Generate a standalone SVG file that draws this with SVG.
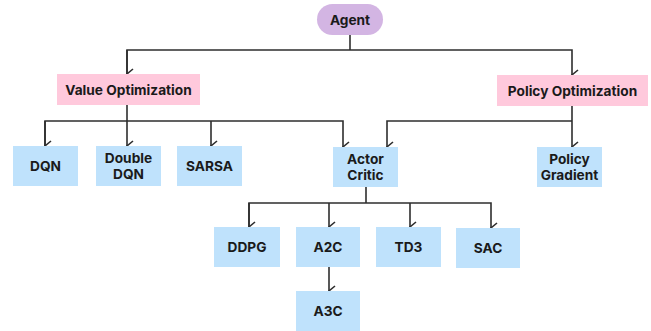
<svg xmlns="http://www.w3.org/2000/svg" width="651" height="331" viewBox="0 0 651 331">
<style>
.t{font-family:Inter,"Noto Sans","Liberation Sans",sans-serif;font-weight:700;font-size:13.7px;fill:#1a1a1a;text-anchor:middle;dominant-baseline:central}
.b{fill:#bfe2fc}
.p{fill:#ffc9dc}
.c{fill:none;stroke:#2e2e2e;stroke-width:1.6}
</style>
<defs>
<marker id="a" viewBox="0 0 12 10" refX="6" refY="9" markerWidth="12" markerHeight="10" markerUnits="userSpaceOnUse" orient="auto-start-reverse">
<path d="M1,3 L6,9 L11,3" fill="none" stroke="#2e2e2e" stroke-width="1.6"/>
</marker>
</defs>
<rect width="651" height="331" fill="#fff"/>
<g id="connectors" class="c">
<path d="M350,35 V50"/>
<path d="M127,74 V50 H572 V75" marker-end="url(#a)"/>
<path d="M127,50 V74" marker-end="url(#a)"/>
<path d="M127,105 V121"/>
<path d="M45,146 V121 H343 V147" marker-end="url(#a)"/>
<path d="M45,121 V146" marker-end="url(#a)"/>
<path d="M127,121 V146" marker-end="url(#a)"/>
<path d="M211,121 V146" marker-end="url(#a)"/>
<path d="M572,106 V147" marker-end="url(#a)"/>
<path d="M572,121 H387 V147" marker-end="url(#a)"/>
<path d="M366,187 V203"/>
<path d="M249,227 V203 H491 V228" marker-end="url(#a)"/>
<path d="M249,203 V227" marker-end="url(#a)"/>
<path d="M329,203 V227" marker-end="url(#a)"/>
<path d="M410,203 V227" marker-end="url(#a)"/>
<path d="M329,267 V291" marker-end="url(#a)"/>
</g>
<g id="agent"><rect x="317" y="4" width="66" height="31" rx="15.5" fill="#d3b5e3"/><text class="t" x="350" y="19.5">Agent</text></g>
<g id="value-optimization"><rect class="p" x="57" y="74" width="143" height="31"/><text class="t" x="128.5" y="89.5">Value Optimization</text></g>
<g id="policy-optimization"><rect class="p" x="497" y="75" width="151" height="31"/><text class="t" x="572.5" y="90.5">Policy Optimization</text></g>
<g id="dqn"><rect class="b" x="13" y="146" width="65" height="40"/><text class="t" x="45.5" y="166">DQN</text></g>
<g id="double-dqn"><rect class="b" x="96" y="146" width="65" height="40"/><text class="t" x="128.5" y="158">Double</text><text class="t" x="128.5" y="174">DQN</text></g>
<g id="sarsa"><rect class="b" x="177" y="146" width="65" height="40"/><text class="t" x="209.5" y="166">SARSA</text></g>
<g id="actor-critic"><rect class="b" x="333" y="147" width="65" height="40"/><text class="t" x="365.5" y="159">Actor</text><text class="t" x="365.5" y="175">Critic</text></g>
<g id="policy-gradient"><rect class="b" x="537" y="147" width="65" height="40"/><text class="t" x="569.5" y="159">Policy</text><text class="t" x="569.5" y="175">Gradient</text></g>
<g id="ddpg"><rect class="b" x="214" y="227" width="66" height="40"/><text class="t" x="247" y="247">DDPG</text></g>
<g id="a2c"><rect class="b" x="296" y="227" width="64" height="40"/><text class="t" x="328" y="247">A2C</text></g>
<g id="td3"><rect class="b" x="376" y="227" width="65" height="40"/><text class="t" x="408.5" y="247">TD3</text></g>
<g id="sac"><rect class="b" x="456" y="228" width="64" height="40"/><text class="t" x="488" y="248">SAC</text></g>
<g id="a3c"><rect class="b" x="296" y="291" width="64" height="40"/><text class="t" x="328" y="311">A3C</text></g>
</svg>
